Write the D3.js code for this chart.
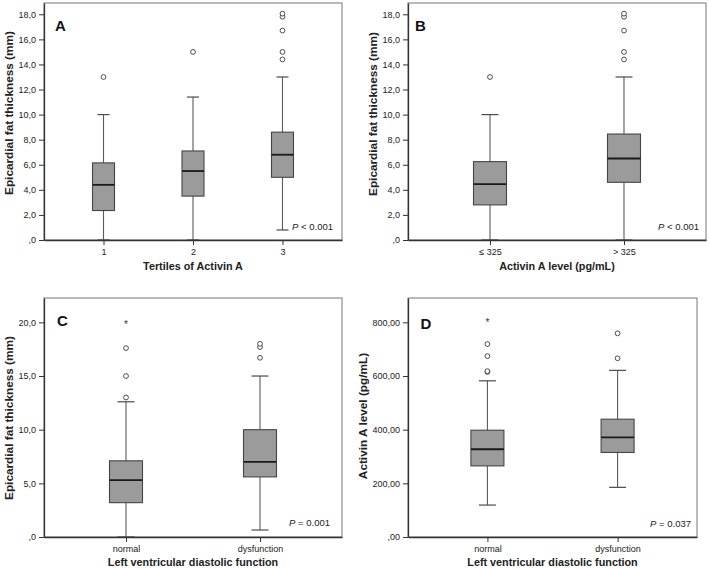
<!DOCTYPE html>
<html>
<head>
<meta charset="utf-8">
<script src="https://cdn.jsdelivr.net/npm/d3@7"></script>
<style>
  html, body { margin: 0; padding: 0; background: #ffffff; }
  svg { display: block; }
</style>
</head>
<body>
<svg id="chart" width="709" height="569"></svg>
<script>
// ---------------- DATA ----------------
// Panel A: EFT by tertiles of Activin A
const aCategories = ["1", "2", "3"];
const aWhiskerLow = [0.0, 0.0, 0.8];
const aQ1 = [2.35, 3.5, 5.0];
const aMedian = [4.4, 5.5, 6.8];
const aQ3 = [6.15, 7.1, 8.6];
const aWhiskerHigh = [10.0, 11.4, 13.0];
const aOutliers = [[13.0], [15.0], [14.4, 15.0, 16.7, 17.8, 18.05]];
const aExtremes = [[], [], []];
const aYTicks = [0, 2, 4, 6, 8, 10, 12, 14, 16, 18];

// Panel B: EFT by Activin A level
const bCategories = ["≤ 325", "> 325"];
const bWhiskerLow = [0.0, 0.0];
const bQ1 = [2.8, 4.6];
const bMedian = [4.45, 6.5];
const bQ3 = [6.25, 8.45];
const bWhiskerHigh = [10.0, 13.0];
const bOutliers = [[13.0], [14.4, 15.0, 16.7, 17.8, 18.05]];
const bExtremes = [[], []];
const bYTicks = [0, 2, 4, 6, 8, 10, 12, 14, 16, 18];

// Panel C: EFT by LV diastolic function
const cCategories = ["normal", "dysfunction"];
const cWhiskerLow = [0.0, 0.65];
const cQ1 = [3.2, 5.6];
const cMedian = [5.3, 7.0];
const cQ3 = [7.1, 10.0];
const cWhiskerHigh = [12.6, 15.0];
const cOutliers = [[13.0, 15.0, 17.6], [16.7, 17.7, 18.0]];
const cExtremes = [[20.0], []];
const cYTicks = [0, 5, 10, 15, 20];

// Panel D: Activin A level by LV diastolic function
const dCategories = ["normal", "dysfunction"];
const dWhiskerLow = [119, 185];
const dQ1 = [265, 315];
const dMedian = [327, 371];
const dQ3 = [398, 439];
const dWhiskerHigh = [582, 621];
const dOutliers = [[615, 618, 674, 719], [666, 759]];
const dExtremes = [[806], []];
const dYTicks = [0, 200, 400, 600, 800];

// ---------------- DRAWING ----------------
const FONT = "'Liberation Sans', Arial, Helvetica, sans-serif";
const svg = d3.select("#chart");

const fmt1 = v => v === 0 ? ",0" : v.toFixed(1).replace(".", ",");
const fmt2 = v => v === 0 ? ",00" : v.toFixed(2).replace(".", ",");

function drawPanel(cfg) {
  const g = svg.append("g");
  const x = d3.scalePoint().domain(cfg.categories).range([cfg.x0, cfg.x1]).padding(cfg.pad);
  const y = d3.scaleLinear().domain([0, cfg.yMax]).range([cfg.y1, cfg.y0]);

  // frame
  g.append("rect")
    .attr("x", cfg.x0).attr("y", cfg.y0)
    .attr("width", cfg.x1 - cfg.x0).attr("height", cfg.y1 - cfg.y0)
    .attr("fill", "none").attr("stroke", "#8c8c8c").attr("stroke-width", 1.2);

  const stats = cfg.categories.map((c, i) => ({
    cat: c, lo: cfg.lo[i], q1: cfg.q1[i], med: cfg.med[i], q3: cfg.q3[i], hi: cfg.hi[i],
    out: cfg.out[i], ext: cfg.ext[i]
  }));

  const bw = cfg.boxW, cw = cfg.capW;
  const grp = g.selectAll("g.box").data(stats).join("g").attr("class", "box");

  // whiskers
  grp.append("line")
    .attr("x1", d => x(d.cat)).attr("x2", d => x(d.cat))
    .attr("y1", d => y(d.hi)).attr("y2", d => y(d.q3))
    .attr("stroke", "#5a5a5a").attr("stroke-width", 1.1);
  grp.append("line")
    .attr("x1", d => x(d.cat)).attr("x2", d => x(d.cat))
    .attr("y1", d => y(d.q1)).attr("y2", d => y(d.lo))
    .attr("stroke", "#5a5a5a").attr("stroke-width", 1.1);
  // caps
  grp.append("line")
    .attr("x1", d => x(d.cat) - cw / 2).attr("x2", d => x(d.cat) + cw / 2)
    .attr("y1", d => y(d.hi)).attr("y2", d => y(d.hi))
    .attr("stroke", "#4a4a4a").attr("stroke-width", 1.2);
  grp.append("line")
    .attr("x1", d => x(d.cat) - cw / 2).attr("x2", d => x(d.cat) + cw / 2)
    .attr("y1", d => y(d.lo)).attr("y2", d => y(d.lo))
    .attr("stroke", "#4a4a4a").attr("stroke-width", 1.2);
  // box
  grp.append("rect")
    .attr("x", d => x(d.cat) - bw / 2).attr("width", bw)
    .attr("y", d => y(d.q3)).attr("height", d => y(d.q1) - y(d.q3))
    .attr("fill", "#9b9b9b").attr("stroke", "#454545").attr("stroke-width", 1.1);
  // median
  grp.append("line")
    .attr("x1", d => x(d.cat) - bw / 2).attr("x2", d => x(d.cat) + bw / 2)
    .attr("y1", d => y(d.med)).attr("y2", d => y(d.med))
    .attr("stroke", "#1a1a1a").attr("stroke-width", 1.8);
  // outliers
  grp.selectAll("circle.o").data(d => d.out.map(v => ({ cat: d.cat, v })))
    .join("circle").attr("class", "o")
    .attr("cx", d => x(d.cat)).attr("cy", d => y(d.v)).attr("r", 2.4)
    .attr("fill", "#ffffff").attr("stroke", "#3a3a3a").attr("stroke-width", 0.9);
  // extremes
  grp.selectAll("text.e").data(d => d.ext.map(v => ({ cat: d.cat, v })))
    .join("text").attr("class", "e")
    .attr("x", d => x(d.cat)).attr("y", d => y(d.v)).attr("dy", "0.55em")
    .attr("text-anchor", "middle").attr("font-family", FONT).attr("font-size", 10)
    .attr("fill", "#333").text("*");

  // axes
  const yAxis = d3.axisLeft(y).tickValues(cfg.yTicks).tickFormat(cfg.fmt)
    .tickSize(5).tickSizeOuter(0).tickPadding(3);
  const ya = g.append("g").attr("transform", `translate(${cfg.x0},0)`).call(yAxis);
  const xAxis = d3.axisBottom(x).tickSize(5).tickSizeOuter(0).tickPadding(4);
  const xa = g.append("g").attr("transform", `translate(0,${cfg.y1})`).call(xAxis);
  [ya, xa].forEach(a => {
    a.select(".domain").attr("stroke", "#333").attr("stroke-width", 1.3);
    a.selectAll(".tick line").attr("stroke", "#333").attr("stroke-width", 1);
    a.selectAll(".tick text").attr("font-family", FONT).attr("font-size", 9).attr("fill", "#222");
  });

  // axis titles
  g.append("text")
    .attr("transform", `translate(${cfg.x0 + cfg.yTitleDx},${cfg.yTitleY}) rotate(-90)`)
    .attr("text-anchor", "middle").attr("font-family", FONT).attr("font-weight", "bold")
    .attr("font-size", cfg.yTitleSize).attr("fill", "#222").text(cfg.yTitle);
  g.append("text")
    .attr("x", (cfg.x0 + cfg.x1) / 2).attr("y", cfg.y1 + cfg.xTitleDy)
    .attr("text-anchor", "middle").attr("font-family", FONT).attr("font-weight", "bold")
    .attr("font-size", 10.8).attr("fill", "#222").text(cfg.xTitle);

  // panel letter
  g.append("text")
    .attr("x", cfg.x0 + cfg.letterDx).attr("y", cfg.y0 + cfg.letterDy)
    .attr("font-family", FONT).attr("font-weight", "bold").attr("font-size", 15)
    .attr("fill", "#111").text(cfg.letter);

  // p value
  const pt = g.append("text")
    .attr("x", cfg.x1 - cfg.pDx).attr("y", cfg.y1 - cfg.pDy)
    .attr("text-anchor", "end").attr("font-family", FONT).attr("font-size", 9.5).attr("fill", "#222");
  pt.append("tspan").attr("font-style", "italic").text("P");
  pt.append("tspan").text(cfg.pText);
}

drawPanel({
  letter: "A", categories: aCategories, lo: aWhiskerLow, q1: aQ1, med: aMedian, q3: aQ3,
  hi: aWhiskerHigh, out: aOutliers, ext: aExtremes, yTicks: aYTicks, fmt: fmt1,
  x0: 44, x1: 342, y0: 3, y1: 240, yMax: 18.9, pad: 0.665, boxW: 22, capW: 12,
  yTitle: "Epicardial fat thickness (mm)", yTitleDx: -31.5, yTitleY: 113, yTitleSize: 11.8,
  xTitle: "Tertiles of Activin A", xTitleDy: 30,
  letterDx: 11, letterDy: 28, pDx: 9, pDy: 10, pText: " < 0.001"
});

drawPanel({
  letter: "B", categories: bCategories, lo: bWhiskerLow, q1: bQ1, med: bMedian, q3: bQ3,
  hi: bWhiskerHigh, out: bOutliers, ext: bExtremes, yTicks: bYTicks, fmt: fmt1,
  x0: 408, x1: 706, y0: 3, y1: 240, yMax: 18.9, pad: 0.612, boxW: 33, capW: 17,
  yTitle: "Epicardial fat thickness (mm)", yTitleDx: -31, yTitleY: 114, yTitleSize: 11.8,
  xTitle: "Activin A level (pg/mL)", xTitleDy: 30,
  letterDx: 7, letterDy: 28, pDx: 7, pDy: 10, pText: " < 0.001"
});

drawPanel({
  letter: "C", categories: cCategories, lo: cWhiskerLow, q1: cQ1, med: cMedian, q3: cQ3,
  hi: cWhiskerHigh, out: cOutliers, ext: cExtremes, yTicks: cYTicks, fmt: fmt1,
  x0: 44, x1: 342, y0: 298, y1: 537, yMax: 22.27, pad: 0.612, boxW: 33, capW: 17,
  yTitle: "Epicardial fat thickness (mm)", yTitleDx: -31.5, yTitleY: 418, yTitleSize: 11.8,
  xTitle: "Left ventricular diastolic function", xTitleDy: 29,
  letterDx: 13, letterDy: 28, pDx: 12, pDy: 11, pText: " = 0.001"
});

drawPanel({
  letter: "D", categories: dCategories, lo: dWhiskerLow, q1: dQ1, med: dMedian, q3: dQ3,
  hi: dWhiskerHigh, out: dOutliers, ext: dExtremes, yTicks: dYTicks, fmt: fmt2,
  x0: 408, x1: 697, y0: 298, y1: 537, yMax: 890.7, pad: 0.61, boxW: 33, capW: 17,
  yTitle: "Activin A level (pg/mL)", yTitleDx: -41, yTitleY: 416, yTitleSize: 11.8,
  xTitle: "Left ventricular diastolic function", xTitleDy: 29,
  letterDx: 12.5, letterDy: 31, pDx: 6, pDy: 10, pText: " = 0.037"
});
</script>
</body>
</html>
